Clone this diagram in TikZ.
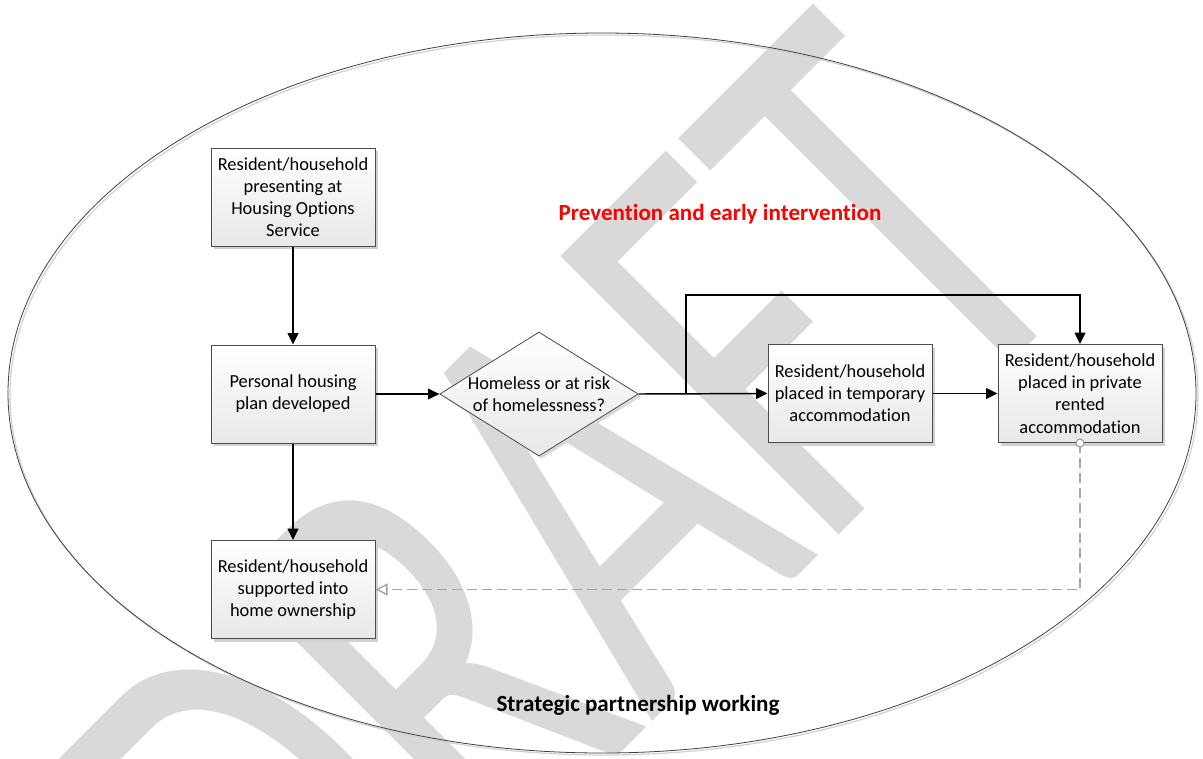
\documentclass[tikz,border=0pt]{standalone}
\usepackage{fontspec}
\setmainfont{Carlito}[Ligatures={NoCommon}]
\usetikzlibrary{arrows.meta,shapes.geometric,shadows}
\tikzset{
  boxnode/.style={draw=black!70, line width=0.75pt, top color=white, bottom color=black!9,
    minimum width=123pt, minimum height=73.5pt, align=center, inner sep=1pt,
    font=\fontsize{13.8}{16.6}\selectfont,
    general shadow={fill=black!18, shadow xshift=2.5pt, shadow yshift=-2.5pt}},
  decision/.style={diamond, aspect=1.6, draw=black!70, line width=0.6pt, top color=white, bottom color=black!9,
    minimum width=147pt, minimum height=92pt, inner sep=0pt, align=center,
    font=\fontsize{13.8}{16.6}\selectfont,
    general shadow={fill=black!15, shadow xshift=2pt, shadow yshift=-2pt}},
  conn/.style={line width=1.1pt, -{Triangle[length=8.5pt,width=8pt]}},
  dashconn/.style={line width=1.1pt, black!35, dash pattern=on 7.5pt off 3.75pt,
    -{Triangle[open,length=9pt,width=9pt]}},
  title/.style={font=\fontsize{17.3}{20}\selectfont\bfseries},
}
\begin{document}
\begin{tikzpicture}[x=0.75pt,y=-0.75pt]
\useasboundingbox (0,0) rectangle (1203,758);
\fill[white] (0,0) rectangle (1203,758);
\begin{scope}
\clip (0,0) rectangle (1203,758);
\node[text=black!15, rotate=45, xscale=0.67, inner sep=0pt, font=\fontsize{460}{460}\selectfont] (wm) at (566,530) {DRAFT};
\end{scope}
% ellipse
\draw[black!18, line width=0.9pt] (604,395) ellipse [x radius=594, y radius=360];
\draw[black!75, line width=0.6pt] (602,393) ellipse [x radius=594, y radius=360];
% labels
\node[title, text=red] (prev) at (720,214) {Prevention and early intervention};
\node[title] (strat) at (638,705) {Strategic partnership working};
% boxes
\node[boxnode] (present) at (293,197) {Resident/household\\presenting at\\Housing Options\\Service};
\node[boxnode] (plan) at (293,394) {Personal housing\\plan developed};
\node[boxnode] (home) at (293,589.5) {Resident/household\\supported into\\home ownership};
\node[decision] (dia) at (539,394) {Homeless or at risk\\of homelessness?};
\node[boxnode] (temp) at (850,393.5) {Resident/household\\placed in temporary\\accommodation};
\node[boxnode] (priv) at (1080,393.5) {Resident/household\\placed in private\\rented\\accommodation};
\coordinate (split) at (686,394);
% connectors
\draw[conn] (present) -- (plan);
\draw[conn] (plan) -- (dia);
\draw[conn] (plan) -- (home);
\draw[conn] (dia.east) -- (temp.west);
\draw[conn] (split) -- ++(0,-99) -| (priv.north);
\draw[conn] (temp) -- (priv);
\draw[dashconn] (priv.south) -- (priv.south |- home.east) -- (home.east);
\node[circle, draw=black!40, fill=white, line width=0.8pt, inner sep=0pt, minimum size=6pt] (start) at (priv.south) {};
\end{tikzpicture}
\end{document}
